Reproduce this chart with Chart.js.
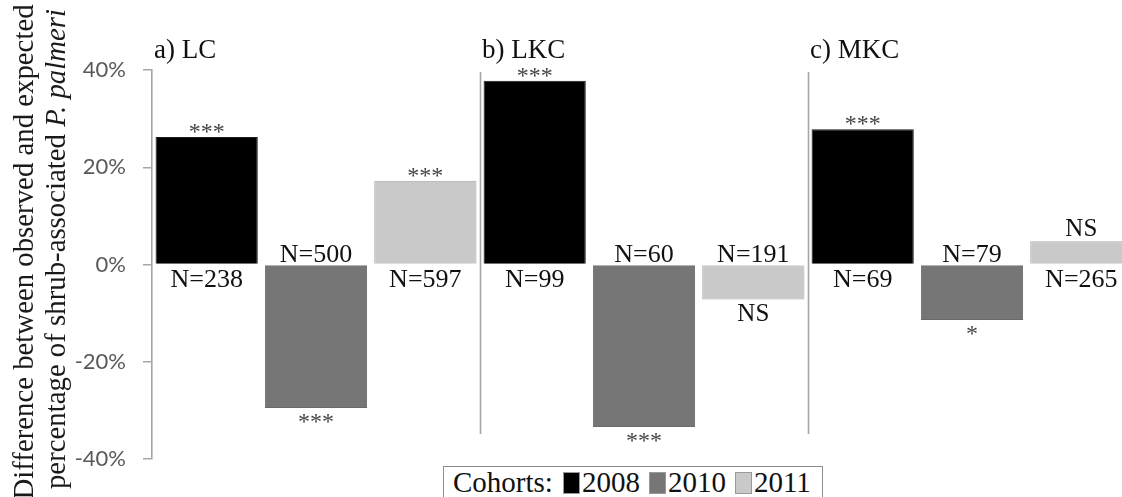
<!DOCTYPE html>
<html>
<head>
<meta charset="utf-8">
<script src="https://cdn.jsdelivr.net/npm/chart.js@4/dist/chart.umd.min.js"></script>
<style>
  html, body { margin: 0; padding: 0; background: #fff; overflow: hidden; width: 1122px; height: 497px; }
  #wrap { position: absolute; left: 0; top: 0; width: 1140px; height: 497px; }
  #legend {
    position: absolute; left: 443px; top: 466px; height: 40px;
    border: 1px solid #8c8c8c; box-sizing: border-box; padding: 0 11px 0 9px;
    font-family: "Liberation Serif", serif; font-size: 29px; color: #111;
    display: flex; align-items: flex-start; white-space: nowrap; background: #fff;
  }
  #legend .ttl { margin-right: 10px; line-height: 31px; }
  #legend .item { display: flex; align-items: flex-start; margin-right: 9px; line-height: 31px; }
  #legend .item:last-child { margin-right: 0; }
  #legend .sw { width: 17px; height: 22px; margin-top: 5px; margin-right: 2px; box-sizing: border-box; border: 1px solid #999; }
</style>
</head>
<body>
<div id="wrap"><canvas id="c"></canvas></div>
<div id="legend"></div>
<script>
// ---- data ----
const categories = ['a) LC', 'b) LKC', 'c) MKC'];
const cohorts = ['2008', '2010', '2011'];
const diff2008 = [26.2, 37.8, 27.8];
const diff2010 = [-29.5, -33.4, -11.4];
const diff2011 = [17.2, -7.2, 4.8];
const n2008 = [238, 99, 69];
const n2010 = [500, 60, 79];
const n2011 = [597, 191, 265];
const sig2008 = ['***', '***', '***'];
const sig2010 = ['***', '***', '*'];
const sig2011 = ['***', 'NS', 'NS'];
const yTickLabels = ['-40%', '-20%', '0%', '20%', '40%'];
const yTitleLine1 = 'Difference between observed and expected';
const yTitleLine2a = 'percentage of shrub-associated ';
const yTitleLine2b = 'P. palmeri';
const legendTitle = 'Cohorts:';

const colors = ['#000000', '#767676', '#c9c9c9'];
const borders = ['#1a1a1a', '#6a6a6a', '#a8a8a8'];
const seriesValues = [diff2008, diff2010, diff2011];
const seriesN = [n2008, n2010, n2011];
const seriesSig = [sig2008, sig2010, sig2011];

const SERIF = '"Liberation Serif", "Times New Roman", serif';

const annotations = {
  id: 'annotations',
  afterDatasetsDraw(chart) {
    const ctx = chart.ctx;
    const area = chart.chartArea;
    const xs = chart.scales.x;
    ctx.save();
    // panel separators
    ctx.strokeStyle = '#a6a6a6';
    ctx.lineWidth = 1.6;
    const step = xs.getPixelForValue(1) - xs.getPixelForValue(0);
    for (let i = 1; i < categories.length; i++) {
      const x = Math.round(xs.getPixelForValue(i) - step / 2) + 0.5;
      ctx.beginPath();
      ctx.moveTo(x, area.top + 2);
      ctx.lineTo(x, area.bottom - 25);
      ctx.stroke();
    }
    // panel titles
    ctx.fillStyle = '#111';
    ctx.font = '27px ' + SERIF;
    ctx.textAlign = 'left';
    ctx.textBaseline = 'alphabetic';
    categories.forEach((c, i) => {
      const left = xs.getPixelForValue(i) - step / 2;
      ctx.fillText(c, left + 2, area.top - 12);
    });
    // bar labels
    chart.data.datasets.forEach((ds, di) => {
      const meta = chart.getDatasetMeta(di);
      meta.data.forEach((bar, j) => {
        const v = ds.data[j];
        const sig = seriesSig[di][j];
        const n = 'N=' + seriesN[di][j];
        ctx.textAlign = 'center';
        // N label on opposite side of zero
        ctx.fillStyle = '#111';
        ctx.font = '26px ' + SERIF;
        if (v >= 0) ctx.fillText(n, bar.x, bar.base + 23);
        else ctx.fillText(n, bar.x, bar.base - 3);
        // significance
        if (sig === 'NS') {
          ctx.fillStyle = '#111';
          ctx.font = '25px ' + SERIF;
          if (v >= 0) ctx.fillText(sig, bar.x, bar.y - 5);
          else ctx.fillText(sig, bar.x, bar.y + 21);
        } else {
          ctx.fillStyle = '#444';
          ctx.font = '24px ' + SERIF;
          if (v >= 0) ctx.fillText(sig, bar.x, bar.y - 9 + 11);
          else ctx.fillText(sig, bar.x, bar.y + 10 + 11);
        }
      });
    });
    // y axis title (rotated, two lines, partly italic)
    ctx.fillStyle = '#1a1a1a';
    ctx.textAlign = 'left';
    const size = 28.8;
    const drawLine = (parts, bx, cy) => {
      ctx.save();
      ctx.translate(bx, cy);
      ctx.rotate(-Math.PI / 2);
      let total = 0;
      parts.forEach(p => { ctx.font = p[1] + ' ' + size + 'px ' + SERIF; total += ctx.measureText(p[0]).width; });
      let x = -total / 2;
      parts.forEach(p => { ctx.font = p[1] + ' ' + size + 'px ' + SERIF; ctx.fillText(p[0], x, 0); x += ctx.measureText(p[0]).width; });
      ctx.restore();
    };
    drawLine([[yTitleLine1, 'normal']], 33, 252);
    drawLine([[yTitleLine2a, 'normal'], [yTitleLine2b, 'italic']], 65, 249);
    ctx.restore();
  }
};

const chart = new Chart(document.getElementById('c'), {
  type: 'bar',
  data: {
    labels: categories,
    datasets: cohorts.map((c, i) => ({
      label: c,
      data: seriesValues[i],
      backgroundColor: colors[i],
      borderColor: borders[i],
      borderWidth: 1,
      categoryPercentage: 1.0,
      barPercentage: 0.935
    }))
  },
  options: {
    responsive: true,
    maintainAspectRatio: false,
    animation: false,
    layout: { padding: { left: 0, top: 70, right: 4, bottom: 38 } },
    plugins: { legend: { display: false }, tooltip: { enabled: false } },
    scales: {
      x: { display: false },
      y: {
        min: -40, max: 40,
        afterFit(scale) { scale.width = 152; },
        ticks: {
          stepSize: 20,
          padding: 17,
          color: '#595959',
          font: { family: 'Lato', size: 22 },
          callback: (v) => yTickLabels[[-40, -20, 0, 20, 40].indexOf(v)]
        },
        grid: { drawOnChartArea: false, tickLength: 9, color: '#a6a6a6', lineWidth: 1.5 },
        border: { color: '#a6a6a6', width: 1.6 }
      }
    }
  },
  plugins: [annotations]
});

// HTML legend built from the chart datasets
const lg = document.getElementById('legend');
const t = document.createElement('span'); t.className = 'ttl'; t.textContent = legendTitle; lg.appendChild(t);
chart.data.datasets.forEach((ds) => {
  const it = document.createElement('span'); it.className = 'item';
  const sw = document.createElement('span'); sw.className = 'sw'; sw.style.background = ds.backgroundColor;
  const tx = document.createElement('span'); tx.textContent = ds.label;
  it.appendChild(sw); it.appendChild(tx); lg.appendChild(it);
});
</script>
</body>
</html>
